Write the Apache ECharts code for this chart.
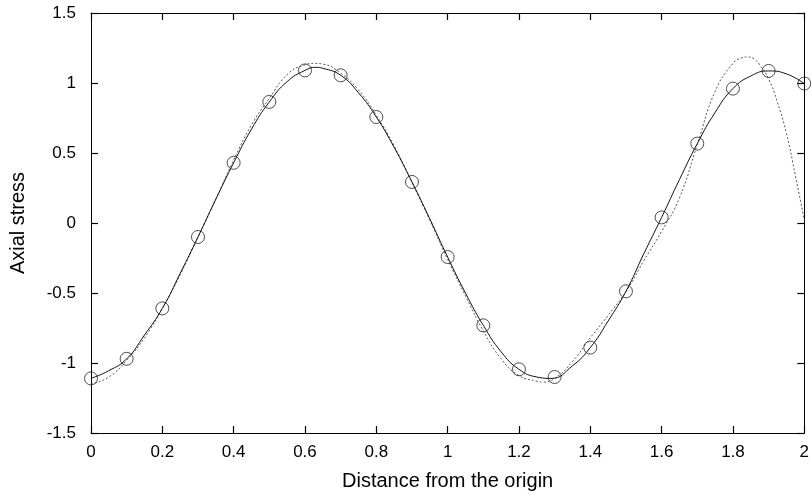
<!DOCTYPE html>
<html>
<head>
<meta charset="utf-8">
<script src="https://cdn.jsdelivr.net/npm/echarts@6/dist/echarts.min.js"></script>
<style>
html,body{margin:0;padding:0;background:#fff;}
#chart{width:812px;height:498px;}
</style>
</head>
<body>
<div id="chart"></div>
<script>
// Sampled points (circles)
const sampleX = [0,0.1,0.2,0.3,0.4,0.5,0.6,0.7,0.8,0.9,1.0,1.1,1.2,1.3,1.4,1.5,1.6,1.7,1.8,1.9,2.0];
const sampleY = [-1.11,-0.97,-0.61,-0.10,0.43,0.865,1.09,1.055,0.757,0.293,-0.243,-0.731,-1.045,-1.10,-0.89,-0.488,0.04,0.567,0.96,1.086,0.996];

// Solid fitted curve
const solidX = [0,0.05,0.1,0.15,0.2,0.25,0.3,0.35,0.4,0.45,0.5,0.55,0.6,0.63,0.65,0.7,0.75,0.8,0.85,0.9,0.95,1.0,1.05,1.1,1.15,1.2,1.25,1.29,1.35,1.4,1.45,1.5,1.55,1.6,1.65,1.7,1.75,1.8,1.85,1.9,1.95,2.0];
const solidY = [-1.11,-1.055,-0.97,-0.80,-0.61,-0.36,-0.10,0.17,0.43,0.67,0.865,1.01,1.09,1.112,1.105,1.055,0.93,0.757,0.54,0.293,0.03,-0.243,-0.50,-0.731,-0.92,-1.045,-1.10,-1.11,-1.02,-0.89,-0.70,-0.488,-0.22,0.04,0.31,0.567,0.79,0.96,1.05,1.086,1.065,0.996];

// Dotted comparison curve
const dottedX = [0,0.05,0.1,0.15,0.2,0.25,0.3,0.35,0.4,0.45,0.5,0.55,0.6,0.627,0.65,0.7,0.75,0.8,0.85,0.9,0.95,1.0,1.05,1.1,1.15,1.2,1.25,1.266,1.3,1.35,1.4,1.45,1.5,1.55,1.6,1.65,1.7,1.75,1.8,1.825,1.84,1.86,1.875,1.9,1.925,1.95,1.975,2.0];
const dottedY = [-1.15,-1.10,-0.98,-0.82,-0.61,-0.37,-0.10,0.17,0.45,0.70,0.89,1.06,1.13,1.14,1.135,1.07,0.95,0.77,0.55,0.29,0.02,-0.26,-0.52,-0.77,-0.97,-1.09,-1.13,-1.136,-1.11,-0.99,-0.82,-0.66,-0.49,-0.27,-0.06,0.18,0.56,0.94,1.14,1.18,1.186,1.17,1.13,1.03,0.86,0.64,0.34,0.02];

const xTicks = {min:0, max:2, interval:0.2};
const yTicks = {min:-1.5, max:1.5, interval:0.5};

const zip = (xs, ys) => xs.map((x,i)=>[x, ys[i]]);
const font = 'Liberation Sans, Arial, sans-serif';

const chart = echarts.init(document.getElementById('chart'), null, {renderer:'canvas'});
const mkLine = () => ({show:true, onZero:false, lineStyle:{color:'#000', width:1}});
const mkTick = () => ({show:true, inside:true, length:7, lineStyle:{color:'#000', width:1.2}});
const fmt = v => String(+v.toFixed(1));

chart.setOption({
  animation:false,
  backgroundColor:'#fff',
  grid:{left:91, right:0, top:13, bottom:65},
  xAxis:[
    {type:'value', position:'bottom', min:xTicks.min, max:xTicks.max, interval:xTicks.interval,
     name:'Distance from the origin', nameLocation:'middle', nameGap:38,
     nameTextStyle:{fontFamily:font, fontSize:20, color:'#000'},
     axisLine:mkLine(), axisTick:mkTick(), splitLine:{show:false},
     axisLabel:{fontFamily:font, fontSize:17, color:'#000', margin:11, formatter:fmt, showMaxLabel:true}},
    {type:'value', position:'top', min:xTicks.min, max:xTicks.max, interval:xTicks.interval,
     axisLine:mkLine(), axisTick:mkTick(), splitLine:{show:false}, axisLabel:{show:false}}
  ],
  yAxis:[
    {type:'value', position:'left', min:yTicks.min, max:yTicks.max, interval:yTicks.interval,
     name:'Axial stress', nameLocation:'middle', nameGap:63,
     nameTextStyle:{fontFamily:font, fontSize:20, color:'#000'},
     axisLine:mkLine(), axisTick:mkTick(), splitLine:{show:false},
     axisLabel:{fontFamily:font, fontSize:17, color:'#000', margin:15, formatter:fmt}},
    {type:'value', position:'right', min:yTicks.min, max:yTicks.max, interval:yTicks.interval,
     axisLine:mkLine(), axisTick:mkTick(), splitLine:{show:false}, axisLabel:{show:false}}
  ],
  series:[
    {type:'line', data:zip(dottedX, dottedY), smooth:true, showSymbol:false, symbol:'none',
     lineStyle:{color:'#555', width:1, type:[2,2]}, z:2},
    {type:'line', data:zip(solidX, solidY), smooth:true, showSymbol:false, symbol:'none',
     lineStyle:{color:'#111', width:1}, z:3},
    {type:'scatter', data:zip(sampleX, sampleY), symbol:'circle', symbolSize:13,
     itemStyle:{color:'rgba(255,255,255,0)', borderColor:'#222', borderWidth:1}, z:4, clip:false}
  ]
});
</script>
</body>
</html>
